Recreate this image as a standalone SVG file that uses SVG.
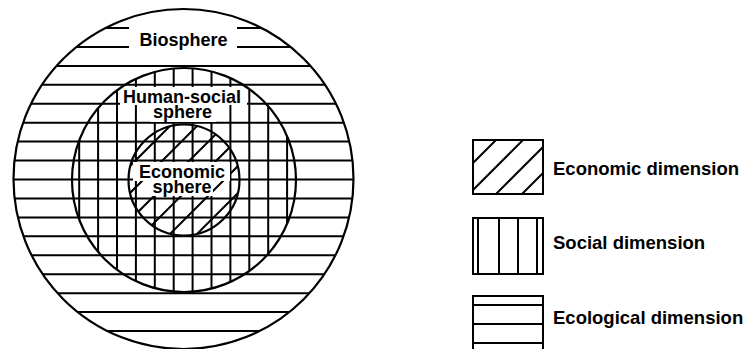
<svg xmlns="http://www.w3.org/2000/svg" width="754" height="349" viewBox="0 0 754 349">
<style>
.h{stroke:#000;stroke-width:2;fill:none}
.c{stroke:#000;stroke-width:2.2;fill:none}
.bg{fill:#fff;stroke:none}
.t{font-family:"Liberation Sans",Arial,sans-serif;font-weight:bold;font-size:18px;fill:#000}
.lt{font-family:"Liberation Sans",Arial,sans-serif;font-weight:bold;font-size:18.5px;fill:#000}
</style>
<defs>
<clipPath id="cOuter"><circle cx="183.5" cy="179" r="170"/></clipPath>
<clipPath id="cMid"><circle cx="184" cy="180" r="112"/></clipPath>
<clipPath id="cIn"><circle cx="184" cy="180" r="55.5"/></clipPath>
<clipPath id="cL1"><rect x="473" y="140" width="70" height="54"/></clipPath>
</defs>
<rect width="754" height="349" fill="#fff"/>

<g id="biosphere">
<g clip-path="url(#cOuter)" class="h">
<path d="M0 28H360M0 46.9H360M0 65.9H360M0 84.8H360M0 103.8H360M0 122.7H360M0 141.6H360M0 160.6H360M0 179.5H360M0 198.5H360M0 217.4H360M0 236.3H360M0 255.3H360M0 274.2H360M0 293.2H360M0 312.1H360M0 331H360"/>
</g>
</g>

<g id="human-social-sphere">
<g clip-path="url(#cMid)" class="h">
<path d="M79.2 60V300M98.1 60V300M117 60V300M135.9 60V300M154.8 60V300M173.7 60V300M192.6 60V300M211.5 60V300M230.4 60V300M249.3 60V300M268.2 60V300M287.1 60V300"/>
</g>
</g>

<g id="economic-sphere">
<g clip-path="url(#cIn)" class="h">
<path d="M-4 300L236 60M23 300L263 60M50 300L290 60M77 300L317 60M104 300L344 60M131 300L371 60"/>
</g>
</g>

<g id="labels">
<rect class="bg" x="129" y="27" width="108" height="23"/>
<rect class="bg" x="120" y="87" width="127" height="18"/>
<rect class="bg" x="150" y="105" width="66" height="17"/>
<rect class="bg" x="133" y="162" width="97" height="19"/>
<rect class="bg" x="151" y="181" width="62" height="15"/>
</g>

<g id="circles">
<circle class="c" cx="183.5" cy="179" r="170"/>
<circle class="c" cx="184" cy="180" r="112"/>
<circle class="c" cx="184" cy="180" r="55.5"/>
</g>

<g id="label-text">
<text class="t" x="183.5" y="46" text-anchor="middle">Biosphere</text>
<text class="t" x="182" y="103" text-anchor="middle">Human-social</text>
<text class="t" x="182.5" y="117.5" text-anchor="middle">sphere</text>
<text class="t" x="182" y="178" text-anchor="middle">Economic</text>
<text class="t" x="182" y="192.5" text-anchor="middle">sphere</text>
</g>

<g id="legend-economic">
<g clip-path="url(#cL1)" class="h">
<path d="M440 196L500 136M467 196L527 136M494 196L554 136M520 196L580 136"/>
</g>
<rect class="h" x="473" y="140" width="70" height="54"/>
<text class="lt" x="553" y="175">Economic dimension</text>
</g>

<g id="legend-social">
<rect class="h" x="473" y="218" width="70" height="56"/>
<path class="h" d="M478 218V274M499 218V274M518 218V274M537 218V274"/>
<text class="lt" x="553" y="249">Social dimension</text>
</g>

<g id="legend-ecological">
<rect class="h" x="473" y="296" width="70" height="70"/>
<path class="h" d="M473 305H543M473 324H543M473 343H543"/>
<text class="lt" x="553" y="324">Ecological dimension</text>
</g>
</svg>
